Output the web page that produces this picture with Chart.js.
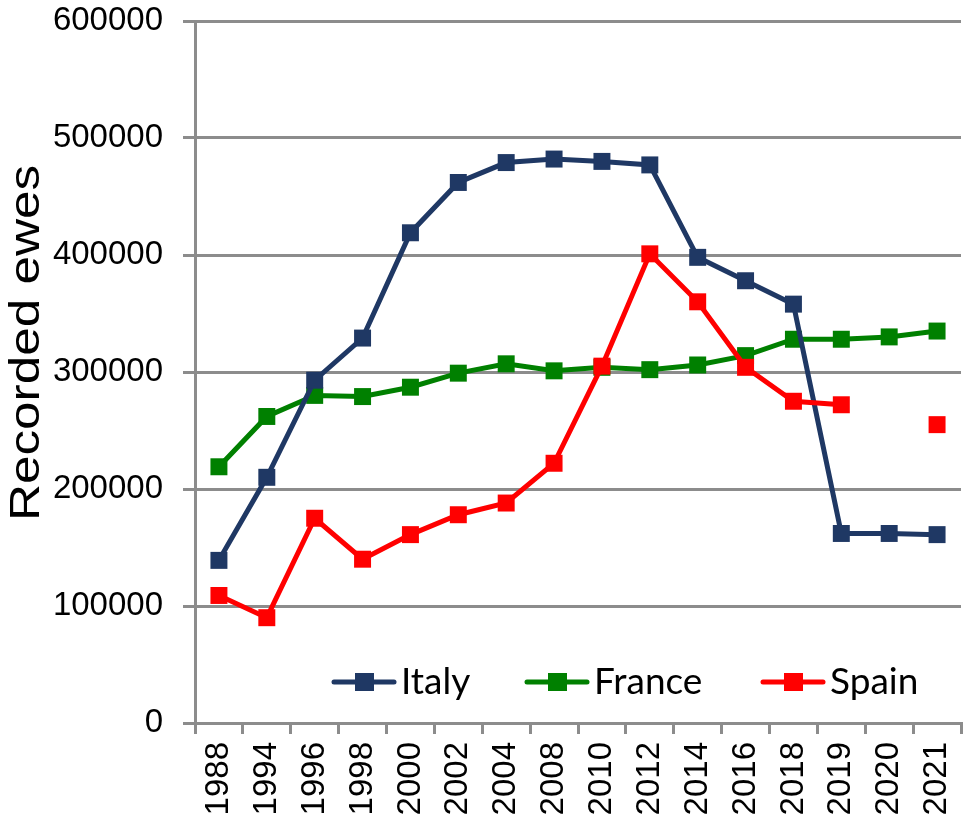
<!DOCTYPE html>
<html>
<head>
<meta charset="utf-8">
<script src="https://cdn.jsdelivr.net/npm/chart.js@4/dist/chart.umd.min.js"></script>
<style>
html,body{margin:0;padding:0;background:#fff;}
#wrap{width:973px;height:826px;position:relative;}
</style>
</head>
<body>
<div id="wrap"><canvas id="c" width="973" height="826"></canvas></div>
<script>
const years = ["1988","1994","1996","1998","2000","2002","2004","2008","2010","2012","2014","2016","2018","2019","2020","2021"];
const italy  = [139000,210000,293000,329000,419000,462000,479000,482000,480000,477000,398000,378000,358000,162000,162000,161000];
const france = [219000,262000,280000,279000,287000,299000,307000,301000,304000,302000,306000,314000,328000,328000,330000,335000];
const spain  = [109000, 90000,175000,140000,161000,178000,188000,222000,305000,401000,360000,304000,275000,272000,null,255000];
const yTicks = [0,100000,200000,300000,400000,500000,600000];
const yTitle = "Recorded ewes";

const gridCol = "#8c8c8c";

const legendPlugin = {
  id: "customLegend",
  afterDraw(chart) {
    const ctx = chart.ctx;
    const xs = [334, 527, 763];
    const cy = 682;
    const ds = chart.data.datasets;
    ctx.save();
    ds.forEach((d, i) => {
      const x0 = xs[i];
      ctx.strokeStyle = d.borderColor;
      ctx.lineWidth = 5;
      ctx.lineCap = "round";
      ctx.beginPath();
      ctx.moveTo(x0, cy);
      ctx.lineTo(x0 + 60, cy);
      ctx.stroke();
      ctx.fillStyle = d.borderColor;
      ctx.fillRect(x0 + 21, cy - 9, 19, 18);
      ctx.fillStyle = "#000";
      ctx.font = "37px Lato";
      ctx.textBaseline = "middle";
      ctx.textAlign = "left";
      ctx.fillText(d.label, x0 + 67, cy);
    });
    ctx.restore();
  }
};

const yTitlePlugin = {
  id: "yTitle",
  afterDraw(chart) {
    const ctx = chart.ctx;
    ctx.save();
    ctx.translate(27, 343);
    ctx.rotate(-Math.PI / 2);
    ctx.scale(1.22, 1);
    ctx.font = "42px 'Liberation Sans'";
    ctx.fillStyle = "#000";
    ctx.textAlign = "center";
    ctx.textBaseline = "middle";
    ctx.fillText(yTitle, 0, 0);
    ctx.restore();
  }
};

function mk(label, data, color, order) {
  return {
    label, data, order,
    borderColor: color,
    backgroundColor: color,
    borderWidth: 5,
    pointStyle: "rect",
    pointRadius: 12,
    pointBorderWidth: 0,
    pointBackgroundColor: color,
    pointBorderColor: color,
    spanGaps: false,
    tension: 0
  };
}

new Chart(document.getElementById("c"), {
  type: "line",
  data: {
    labels: years,
    datasets: [
      mk("Italy", italy, "#1f3864", 1),
      mk("France", france, "#008000", 2),
      mk("Spain", spain, "#ff0000", 0)
    ]
  },
  options: {
    responsive: false,
    animation: false,
    layout: { padding: { left: 0, right: 4, top: 21, bottom: 0 } },
    plugins: { legend: { display: false }, tooltip: { enabled: false }, title: { display: false } },
    scales: {
      x: {
        offset: true,
        grid: { offset: true, drawOnChartArea: false, color: gridCol, lineWidth: 3, tickLength: 11 },
        border: { color: gridCol, width: 3 },
        ticks: {
          color: "#000",
          font: { family: "'Liberation Sans'", size: 33 },
          maxRotation: 90, minRotation: 90, padding: 8, autoSkip: false
        },
        afterFit(s) { s.height = 103; s.paddingLeft = 0; s.paddingRight = 0; }
      },
      y: {
        min: 0, max: 600000,
        afterBuildTicks(s) { s.ticks = yTicks.map(v => ({ value: v })); },
        grid: { color: gridCol, lineWidth: 3, tickLength: 12 },
        border: { color: gridCol, width: 3 },
        ticks: {
          color: "#000",
          font: { family: "'Liberation Sans'", size: 33 },
          padding: 20,
          callback: v => String(v)
        },
        afterFit(s) { s.width = 195; s.paddingTop = 0; s.paddingBottom = 0; }
      }
    }
  },
  plugins: [legendPlugin, yTitlePlugin]
});
</script>
</body>
</html>
